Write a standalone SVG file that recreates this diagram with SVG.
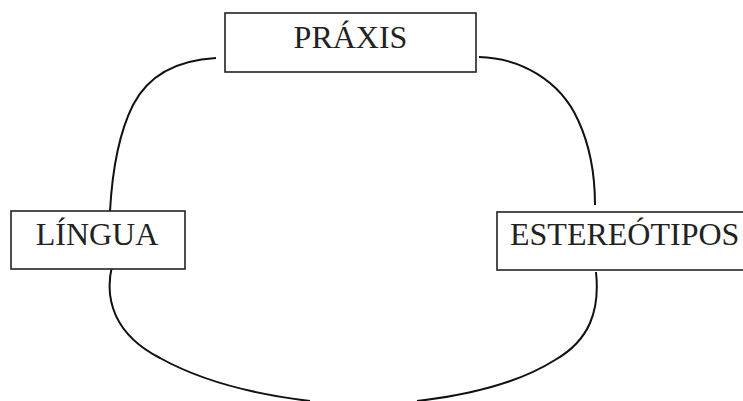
<svg xmlns="http://www.w3.org/2000/svg" width="743" height="401" viewBox="0 0 743 401">
<style>
.box{fill:#fff;stroke:#222;stroke-width:1.6}
.lbl{font-family:"Liberation Serif","Times New Roman",serif;font-size:32px;fill:#222}
.c{fill:none;stroke:#111;stroke-width:2}
</style>
<rect width="743" height="401" fill="#fff"/>
<g id="connectors">
<path class="c" d="M216,58 C180,60 150,72 133,105 C118,135 112,175 110,211"/>
<path class="c" d="M479,57 C520,58 560,80 578,120 C592,150 595,180 595,205"/>
<path class="c" d="M112,266 C104,300 115,335 160,358 C205,383 260,395 310,401"/>
<path class="c" d="M596,272 C600,310 590,340 555,360 C520,382 470,395 417,401"/>
</g>
<g id="praxis">
<rect class="box" x="225" y="13" width="251" height="59"/>
<text class="lbl" x="350.5" y="48" text-anchor="middle">PRÁXIS</text>
</g>
<g id="lingua">
<rect class="box" x="11" y="211" width="174" height="58"/>
<text class="lbl" x="97" y="245" text-anchor="middle">LÍNGUA</text>
</g>
<g id="estereotipos">
<rect class="box" x="497" y="212" width="260" height="58"/>
<text class="lbl" x="510" y="245">ESTEREÓTIPOS</text>
</g>
</svg>
